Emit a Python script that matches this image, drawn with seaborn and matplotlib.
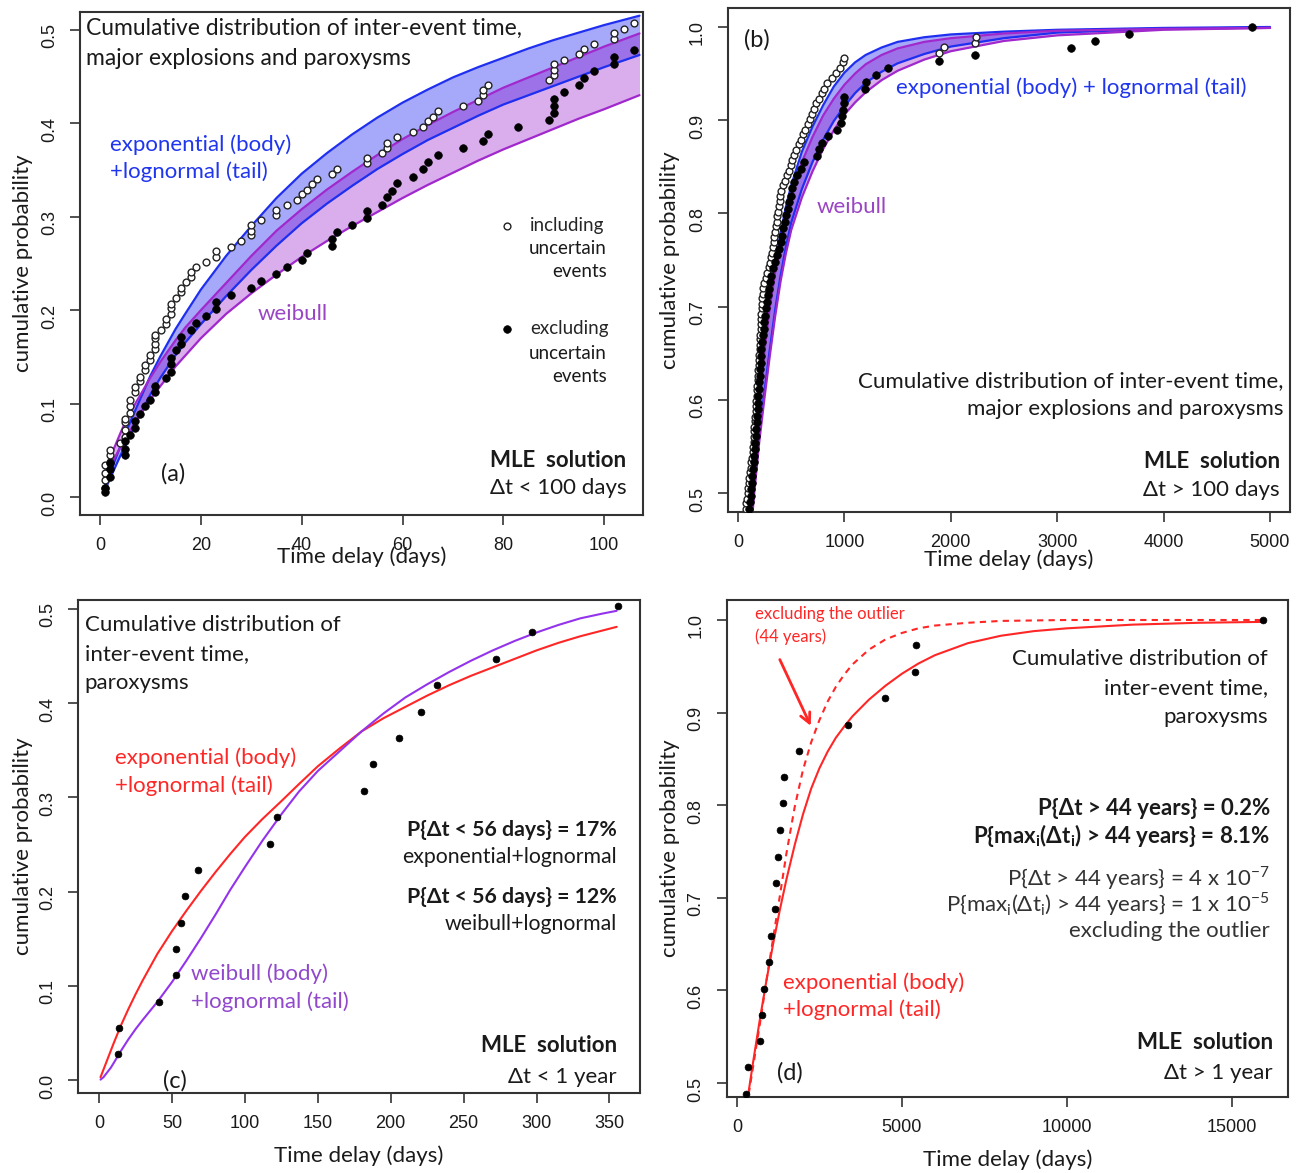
import matplotlib
matplotlib.use("Agg")
import matplotlib.pyplot as plt
from matplotlib.ticker import FormatStrFormatter
import seaborn as sns

# ---------------- panel (a): dt < 100 days, explosions + paroxysms ----------------
a_incl_x = [1, 1, 1, 1, 2, 2, 2, 4, 5, 5, 5, 5, 6, 6, 6, 7, 7, 8, 8, 9, 9, 10, 10,
            11, 11, 11, 11, 12, 13, 13, 14, 14, 14, 15, 16, 16, 17, 18, 18, 19, 21,
            23, 23, 26, 28, 30, 30, 30, 32, 35, 35, 37, 39, 40, 41, 42, 43, 46, 47,
            53, 53, 56, 57, 57, 59, 62, 64, 65, 66, 67, 72, 75, 76, 76, 77, 89, 90,
            90, 90, 92, 95, 96, 98, 102, 102, 104, 106]
a_incl_y = [0.010, 0.018, 0.026, 0.034, 0.038, 0.045, 0.050, 0.058, 0.064, 0.072,
            0.080, 0.084, 0.090, 0.097, 0.104, 0.112, 0.118, 0.124, 0.129, 0.136,
            0.141, 0.147, 0.152, 0.158, 0.164, 0.170, 0.174, 0.179, 0.185, 0.191,
            0.196, 0.202, 0.207, 0.213, 0.219, 0.224, 0.230, 0.235, 0.241, 0.246,
            0.252, 0.257, 0.263, 0.268, 0.274, 0.280, 0.285, 0.291, 0.296, 0.302,
            0.307, 0.313, 0.318, 0.324, 0.329, 0.335, 0.340, 0.346, 0.351, 0.357,
            0.363, 0.368, 0.374, 0.379, 0.385, 0.391, 0.396, 0.402, 0.407, 0.413,
            0.418, 0.424, 0.430, 0.435, 0.441, 0.446, 0.452, 0.457, 0.463, 0.468,
            0.474, 0.479, 0.485, 0.490, 0.496, 0.501, 0.507]
a_excl_x = [1, 1, 2, 2, 2, 5, 5, 5, 6, 7, 7, 8, 9, 10, 11, 11, 13, 14, 14, 14, 15,
            16, 16, 18, 19, 21, 23, 23, 26, 30, 32, 35, 37, 40, 41, 46, 46, 47, 50,
            53, 53, 56, 57, 58, 59, 62, 64, 65, 67, 72, 76, 77, 83, 89, 90, 90, 90,
            92, 95, 96, 98, 102, 102, 106]
a_excl_y = [0.006, 0.010, 0.022, 0.030, 0.037, 0.045, 0.052, 0.060, 0.067, 0.074,
            0.082, 0.089, 0.097, 0.104, 0.112, 0.119, 0.127, 0.134, 0.142, 0.149,
            0.157, 0.164, 0.171, 0.179, 0.186, 0.194, 0.201, 0.209, 0.216, 0.224,
            0.231, 0.239, 0.246, 0.254, 0.261, 0.269, 0.276, 0.284, 0.291, 0.299,
            0.306, 0.313, 0.321, 0.328, 0.336, 0.343, 0.351, 0.358, 0.366, 0.373,
            0.381, 0.388, 0.396, 0.403, 0.411, 0.418, 0.426, 0.433, 0.441, 0.448,
            0.456, 0.463, 0.471, 0.478]
# fitted bands
a_fit_x = [1, 2, 3, 4, 5, 7, 10, 12, 15, 17, 20, 25, 30, 35, 40, 45, 50, 55, 60, 65,
           70, 75, 80, 85, 90, 95, 100, 107]
a_exp_hi = [0.012, 0.026, 0.040, 0.054, 0.068, 0.093, 0.130, 0.151, 0.180, 0.197,
            0.222, 0.258, 0.290, 0.320, 0.346, 0.368, 0.388, 0.406, 0.422, 0.436,
            0.449, 0.460, 0.470, 0.480, 0.489, 0.497, 0.505, 0.515]
a_exp_lo = [0.008, 0.020, 0.032, 0.044, 0.055, 0.078, 0.110, 0.128, 0.152, 0.166,
            0.185, 0.215, 0.243, 0.269, 0.293, 0.314, 0.333, 0.351, 0.367, 0.382,
            0.395, 0.408, 0.420, 0.430, 0.440, 0.450, 0.460, 0.473]
a_wei_hi = [0.028, 0.043, 0.055, 0.068, 0.080, 0.100, 0.128, 0.145, 0.168, 0.182,
            0.200, 0.229, 0.258, 0.285, 0.308, 0.329, 0.348, 0.366, 0.383, 0.398,
            0.412, 0.425, 0.438, 0.449, 0.460, 0.471, 0.482, 0.496]
a_wei_lo = [0.020, 0.033, 0.043, 0.053, 0.063, 0.080, 0.105, 0.119, 0.140, 0.152,
            0.170, 0.196, 0.218, 0.238, 0.257, 0.274, 0.290, 0.305, 0.320, 0.334,
            0.347, 0.360, 0.372, 0.383, 0.394, 0.405, 0.415, 0.430]

# ---------------- panel (b): dt > 100 days ----------------
b_incl_x = [72, 78, 84, 90, 96, 102, 108, 114, 120, 126, 132, 138, 143, 146, 149,
            152, 155, 158, 161, 165, 168, 171, 174, 177, 180, 184, 187, 190, 193,
            196, 200, 204, 207, 209, 211, 213, 215, 218, 220, 223, 226, 229, 232,
            235, 246, 262, 276, 290, 302, 313, 320, 327, 334, 341, 348, 356, 363,
            370, 377, 384, 391, 399, 406, 423, 440, 458, 476, 494, 511, 529, 548,
            570, 590, 612, 632, 654, 673, 695, 714, 736, 760, 787, 812, 840, 880,
            925, 960, 985, 996, 1893, 1932, 2226, 2237]
b_incl_y = [0.483, 0.489, 0.494, 0.500, 0.505, 0.511, 0.516, 0.522, 0.527, 0.533,
            0.538, 0.544, 0.549, 0.555, 0.560, 0.566, 0.571, 0.577, 0.582, 0.588,
            0.593, 0.599, 0.604, 0.610, 0.615, 0.621, 0.626, 0.632, 0.637, 0.643,
            0.648, 0.654, 0.659, 0.665, 0.670, 0.676, 0.681, 0.687, 0.692, 0.698,
            0.703, 0.709, 0.714, 0.720, 0.725, 0.731, 0.736, 0.742, 0.747, 0.753,
            0.758, 0.764, 0.769, 0.775, 0.780, 0.786, 0.791, 0.797, 0.802, 0.808,
            0.813, 0.819, 0.824, 0.830, 0.835, 0.841, 0.846, 0.852, 0.857, 0.863,
            0.868, 0.874, 0.879, 0.885, 0.890, 0.896, 0.901, 0.907, 0.912, 0.918,
            0.923, 0.929, 0.934, 0.940, 0.945, 0.951, 0.956, 0.962, 0.967, 0.972,
            0.978, 0.983, 0.989]
b_excl_x = [108, 113, 119, 125, 130, 135, 141, 146, 152, 157, 162, 167, 171, 176,
            180, 184, 187, 191, 196, 200, 204, 208, 212, 216, 220, 228, 235, 242,
            248, 253, 262, 272, 281, 290, 300, 314, 331, 348, 365, 383, 400, 412,
            427, 441, 454, 468, 481, 494, 507, 522, 555, 590, 620, 740, 762, 790,
            850, 935, 971, 980, 987, 993, 1000, 1190, 1206, 1300, 1410, 1890, 2226,
            3127, 3354, 3676, 4832]
b_excl_y = [0.483, 0.490, 0.497, 0.504, 0.511, 0.518, 0.526, 0.533, 0.540, 0.547,
            0.554, 0.561, 0.569, 0.576, 0.583, 0.590, 0.597, 0.604, 0.612, 0.619,
            0.626, 0.633, 0.640, 0.647, 0.655, 0.662, 0.669, 0.676, 0.683, 0.690,
            0.698, 0.705, 0.712, 0.719, 0.726, 0.733, 0.741, 0.748, 0.755, 0.762,
            0.769, 0.776, 0.784, 0.791, 0.798, 0.805, 0.812, 0.819, 0.827, 0.834,
            0.841, 0.848, 0.855, 0.862, 0.869, 0.876, 0.883, 0.890, 0.897, 0.904,
            0.911, 0.918, 0.925, 0.934, 0.941, 0.948, 0.956, 0.963, 0.970, 0.977,
            0.985, 0.993, 1.000]
b_fit_x = [90, 120, 150, 200, 250, 300, 350, 400, 450, 500, 600, 700, 800, 900, 1000,
           1100, 1200, 1350, 1500, 1750, 2000, 2500, 3000, 4000, 5000]
b_exp_hi = [0.450, 0.503, 0.547, 0.610, 0.664, 0.710, 0.747, 0.778, 0.807, 0.830,
            0.866, 0.893, 0.916, 0.936, 0.951, 0.962, 0.970, 0.978, 0.984, 0.989,
            0.992, 0.995, 0.997, 0.999, 1.000]
b_exp_lo = [0.415, 0.460, 0.503, 0.562, 0.610, 0.655, 0.697, 0.733, 0.764, 0.790,
            0.826, 0.855, 0.879, 0.899, 0.915, 0.929, 0.940, 0.952, 0.961, 0.971,
            0.979, 0.988, 0.994, 0.998, 0.9995]
b_wei_hi = [0.445, 0.497, 0.540, 0.600, 0.654, 0.700, 0.737, 0.768, 0.796, 0.820,
            0.855, 0.882, 0.905, 0.923, 0.938, 0.950, 0.960, 0.970, 0.977, 0.984,
            0.988, 0.993, 0.996, 0.998, 0.999]
b_wei_lo = [0.410, 0.455, 0.497, 0.555, 0.603, 0.648, 0.690, 0.727, 0.757, 0.782,
            0.817, 0.845, 0.869, 0.889, 0.906, 0.919, 0.930, 0.943, 0.953, 0.965,
            0.974, 0.985, 0.991, 0.997, 0.999]

# ---------------- panel (c): paroxysms, dt < 1 year ----------------
c_x = [13, 14, 41, 53, 53, 56, 59, 68, 117, 122, 182, 188, 206, 221, 232, 272, 297, 356]
c_y = [0.028, 0.055, 0.083, 0.111, 0.139, 0.167, 0.195, 0.223, 0.251, 0.279, 0.307,
       0.335, 0.363, 0.391, 0.419, 0.447, 0.475, 0.503]
c_fit_x = [1, 3, 5, 8, 10, 15, 20, 25, 30, 40, 50, 60, 70, 80, 90, 100, 112, 125, 137,
           150, 165, 180, 195, 210, 225, 240, 255, 270, 285, 300, 315, 330, 345, 355]
c_exp = [0.003, 0.011, 0.019, 0.031, 0.039, 0.058, 0.075, 0.091, 0.106, 0.134, 0.158,
         0.180, 0.201, 0.221, 0.240, 0.258, 0.277, 0.296, 0.314, 0.333, 0.352, 0.370,
         0.384, 0.396, 0.408, 0.419, 0.429, 0.438, 0.447, 0.456, 0.464, 0.471, 0.477,
         0.481]
c_wei = [0.0005, 0.003, 0.007, 0.013, 0.018, 0.031, 0.043, 0.054, 0.064, 0.083, 0.104,
         0.127, 0.151, 0.176, 0.202, 0.226, 0.254, 0.282, 0.306, 0.328, 0.349, 0.370,
         0.389, 0.406, 0.420, 0.433, 0.445, 0.456, 0.466, 0.475, 0.483, 0.490, 0.495,
         0.498]

# ---------------- panel (d): paroxysms, dt > 1 year ----------------
d_x = [273, 333, 707, 748, 808, 980, 1030, 1162, 1192, 1232, 1293, 1394, 1414, 1889,
       3354, 4485, 5384, 5424, 15950]
d_y = [0.488, 0.517, 0.545, 0.573, 0.602, 0.631, 0.659, 0.688, 0.716, 0.744, 0.773,
       0.802, 0.831, 0.859, 0.887, 0.916, 0.944, 0.973, 1.000]
d_fit_x = [300, 500, 700, 900, 1100, 1300, 1500, 1750, 2000, 2250, 2500, 2750, 3000,
           3250, 3500, 4000, 4500, 5000, 5500, 6000, 7000, 8000, 9000, 10000, 12000,
           14000, 16000]
d_exp = [0.478, 0.525, 0.570, 0.612, 0.651, 0.687, 0.720, 0.757, 0.790, 0.818, 0.840,
         0.858, 0.873, 0.885, 0.896, 0.914, 0.929, 0.942, 0.953, 0.962, 0.975, 0.983,
         0.988, 0.991, 0.995, 0.997, 0.998]
d_exp_no_outlier = [0.476, 0.520, 0.565, 0.612, 0.657, 0.702, 0.748, 0.798, 0.838,
                    0.868, 0.892, 0.912, 0.928, 0.941, 0.952, 0.968, 0.979, 0.986,
                    0.991, 0.994, 0.997, 0.999, 0.9995, 1.000, 1.000, 1.000, 1.000]

# colours
BLUE = "#1f2ff0"
BLUE_FILL = (0.0, 0.04, 0.94, 0.35)
PURPLE = "#a028cc"
PURPLE_FILL = (0.55, 0.0, 0.78, 0.32)
BLUE_TXT = "#2036ee"
PURPLE_TXT = "#9a46c4"
RED = "#ff2626"
VIOLET = "#9433ec"
VIOLET_TXT = "#9148cc"
DARK = "#1a1a1a"

sns.set_theme(style="ticks")
plt.rcParams["font.family"] = ["Liberation Sans", "DejaVu Sans"]
plt.rcParams["mathtext.fontset"] = "custom"
plt.rcParams["mathtext.rm"] = "Lato"
TXT = ["Lato", "DejaVu Sans"]
FS = 16

fig = plt.figure(figsize=(13.03, 11.73), dpi=100)
ax_a = fig.add_axes([0.0614, 0.5610, 0.4321, 0.4288])
ax_b = fig.add_axes([0.5587, 0.5635, 0.4313, 0.4297])
ax_c = fig.add_axes([0.0599, 0.0682, 0.4313, 0.4203])
ax_d = fig.add_axes([0.5579, 0.0648, 0.4305, 0.4237])


def style_axis(ax, xlim, ylim, xticks, yticks, xlab_y, ylab_x):
    ax.set_xlim(*xlim)
    ax.set_ylim(*ylim)
    ax.set_xticks(xticks)
    ax.set_yticks(yticks)
    ax.yaxis.set_major_formatter(FormatStrFormatter("%.1f"))
    ax.tick_params(direction="out", length=7, width=1.2, color="#333333",
                   labelsize=13, labelcolor=DARK)
    ax.tick_params(axis="x", pad=9)
    ax.tick_params(axis="y", labelrotation=90, pad=9)
    for sp in ax.spines.values():
        sp.set_visible(True)
        sp.set_color("#333333")
        sp.set_linewidth(1.5)
    ax.set_xlabel("Time delay (days)", fontsize=16, family=TXT, color=DARK)
    ax.set_ylabel("cumulative probability", fontsize=16, family=TXT, color=DARK)
    ax.xaxis.set_label_coords(0.5, xlab_y)
    ax.yaxis.set_label_coords(ylab_x, 0.5)


def band(ax, x, hi, lo, line, fill):
    ax.fill_between(x, lo, hi, color=fill, linewidth=0)
    sns.lineplot(x=x, y=hi, ax=ax, color=line, lw=1.6, estimator=None)
    sns.lineplot(x=x, y=lo, ax=ax, color=line, lw=1.6, estimator=None)


def note(ax, x, y, s, ha="left", va="top", color=DARK, size=FS, weight="normal", ls=1.25):
    ax.text(x, y, s, transform=ax.transAxes, ha=ha, va=va, color=color, fontsize=size,
            fontweight=weight, family=TXT, linespacing=ls, multialignment=ha)


# ---- (a)
band(ax_a, a_fit_x, a_exp_hi, a_exp_lo, BLUE, BLUE_FILL)
band(ax_a, a_fit_x, a_wei_hi, a_wei_lo, PURPLE, PURPLE_FILL)
sns.scatterplot(x=a_incl_x, y=a_incl_y, ax=ax_a, color="white", edgecolor="#222222",
                linewidth=1.0, s=24, zorder=5, label="including")
sns.scatterplot(x=a_excl_x, y=a_excl_y, ax=ax_a, color="black", edgecolor="black",
                linewidth=0.5, s=30, zorder=5, label="excluding")
style_axis(ax_a, (-3.97, 107.7), (-0.019, 0.519), range(0, 101, 20),
           [0.0, 0.1, 0.2, 0.3, 0.4, 0.5], -0.062, -0.083)
ax_a.legend(loc="upper left", bbox_to_anchor=(0.748, 0.593), frameon=False,
            borderaxespad=0, handlelength=0.6, handletextpad=0.94, borderpad=0,
            labelspacing=4.6, prop={"family": TXT, "size": 13.5})
note(ax_a, 0.936, 0.547, "uncertain\nevents", ha="right", size=13.5, ls=1.45)
note(ax_a, 0.936, 0.338, "uncertain\nevents", ha="right", size=13.5, ls=1.45)
note(ax_a, 0.01, 0.988, "Cumulative distribution of inter-event time,\nmajor explosions and paroxysms",
     size=16.5, ls=1.5)
note(ax_a, 0.053, 0.757, "exponential (body)\n+lognormal (tail)", color=BLUE_TXT, ls=1.41)
note(ax_a, 0.316, 0.40, "weibull", va="center", color=PURPLE_TXT)
note(ax_a, 0.97, 0.109, "MLE  solution", ha="right", va="center", weight="bold")
note(ax_a, 0.97, 0.054, "Δt < 100 days", ha="right", va="center")
note(ax_a, 0.165, 0.082, "(a)", ha="center", va="center", size=17)

# ---- (b)
band(ax_b, b_fit_x, b_exp_hi, b_exp_lo, BLUE, BLUE_FILL)
band(ax_b, b_fit_x, b_wei_hi, b_wei_lo, PURPLE, PURPLE_FILL)
sns.scatterplot(x=b_incl_x, y=b_incl_y, ax=ax_b, color="white", edgecolor="#222222",
                linewidth=1.0, s=24, zorder=5, legend=False)
sns.scatterplot(x=b_excl_x, y=b_excl_y, ax=ax_b, color="black", edgecolor="black",
                linewidth=0.5, s=30, zorder=5, legend=False)
style_axis(ax_b, (-94, 5188), (0.4796, 1.0204), range(0, 5001, 1000),
           [0.5, 0.6, 0.7, 0.8, 0.9, 1.0], -0.075, -0.085)
note(ax_b, 0.052, 0.937, "(b)", ha="center", va="center", size=17)
note(ax_b, 0.299, 0.841, "exponential (body) + lognormal (tail)", va="center", color=BLUE_TXT)
note(ax_b, 0.157, 0.605, "weibull", va="center", color=PURPLE_TXT)
note(ax_b, 0.988, 0.232, "Cumulative distribution of inter-event time,\nmajor explosions and paroxysms",
     ha="right", va="center", ls=1.5)
note(ax_b, 0.982, 0.101, "MLE  solution", ha="right", va="center", weight="bold")
note(ax_b, 0.982, 0.044, "Δt > 100 days", ha="right", va="center")

# ---- (c)
sns.lineplot(x=c_fit_x, y=c_exp, ax=ax_c, color=RED, lw=1.5, estimator=None)
sns.lineplot(x=c_fit_x, y=c_wei, ax=ax_c, color=VIOLET, lw=1.5, estimator=None)
sns.scatterplot(x=c_x, y=c_y, ax=ax_c, color="black", edgecolor="black",
                linewidth=0.5, s=24, zorder=5, legend=False)
style_axis(ax_c, (-14.4, 371), (-0.0137, 0.5095), range(0, 351, 50),
           [0.0, 0.1, 0.2, 0.3, 0.4, 0.5], -0.107, -0.08)
note(ax_c, 0.012, 0.97, "Cumulative distribution of\ninter-event time,\nparoxysms", ls=1.56)
note(ax_c, 0.066, 0.70, "exponential (body)\n+lognormal (tail)", color=RED, ls=1.41)
note(ax_c, 0.201, 0.262, "weibull (body)\n+lognormal (tail)", color=VIOLET_TXT, ls=1.41)
note(ax_c, 0.959, 0.533, "P{Δt < 56 days} = 17%", ha="right", va="center", weight="bold",
     size=15.3)
note(ax_c, 0.959, 0.479, "exponential+lognormal", ha="right", va="center", size=15.3)
note(ax_c, 0.959, 0.398, "P{Δt < 56 days} = 12%", ha="right", va="center", weight="bold",
     size=15.3)
note(ax_c, 0.959, 0.343, "weibull+lognormal", ha="right", va="center", size=15.3)
note(ax_c, 0.959, 0.097, "MLE  solution", ha="right", va="center", weight="bold")
note(ax_c, 0.959, 0.032, "Δt < 1 year", ha="right", va="center")
note(ax_c, 0.173, 0.024, "(c)", ha="center", va="center", size=17)

# ---- (d)
sns.lineplot(x=d_fit_x, y=d_exp, ax=ax_d, color=RED, lw=1.5, estimator=None)
sns.lineplot(x=d_fit_x, y=d_exp_no_outlier, ax=ax_d, color=RED, lw=1.5,
             estimator=None, linestyle=(0, (3, 2.5)))
sns.scatterplot(x=d_x, y=d_y, ax=ax_d, color="black", edgecolor="black",
                linewidth=0.5, s=24, zorder=5, legend=False)
style_axis(ax_d, (-303, 16697), (0.485, 1.0216), [0, 5000, 10000, 15000],
           [0.5, 0.6, 0.7, 0.8, 0.9, 1.0], -0.105, -0.084)
ax_d.annotate("", xy=(2273, 0.883), xytext=(1263, 0.960),
              arrowprops=dict(arrowstyle="->", color=RED, lw=2, mutation_scale=18))
note(ax_d, 0.05, 0.988, "excluding the outlier\n(44 years)", color=RED, size=12, ls=1.45)
note(ax_d, 0.964, 0.902, "Cumulative distribution of\ninter-event time,\nparoxysms",
     ha="right", ls=1.56)
note(ax_d, 0.968, 0.581, "P{Δt > 44 years} = 0.2%", ha="right", va="center", weight="bold")
note(ax_d, 0.968, 0.527, r"P{max$_\mathregular{i}$(Δt$_\mathregular{i}$) > 44 years} = 8.1%",
     ha="right", va="center", weight="bold")
note(ax_d, 0.968, 0.441, r"P{Δt > 44 years} = 4 x 10$^\mathregular{-7}$", ha="right",
     va="center", color="#333333")
note(ax_d, 0.968, 0.388, r"P{max$_\mathregular{i}$(Δt$_\mathregular{i}$) > 44 years} = 1 x 10$^\mathregular{-5}$",
     ha="right", va="center", color="#333333")
note(ax_d, 0.968, 0.334, "excluding the outlier", ha="right", va="center", color="#333333")
note(ax_d, 0.10, 0.251, "exponential (body)\n+lognormal (tail)", color=RED, ls=1.41)
note(ax_d, 0.973, 0.109, "MLE  solution", ha="right", va="center", weight="bold")
note(ax_d, 0.973, 0.048, "Δt > 1 year", ha="right", va="center")
note(ax_d, 0.112, 0.048, "(d)", ha="center", va="center", size=17)

fig.savefig("out.png", dpi=100)
